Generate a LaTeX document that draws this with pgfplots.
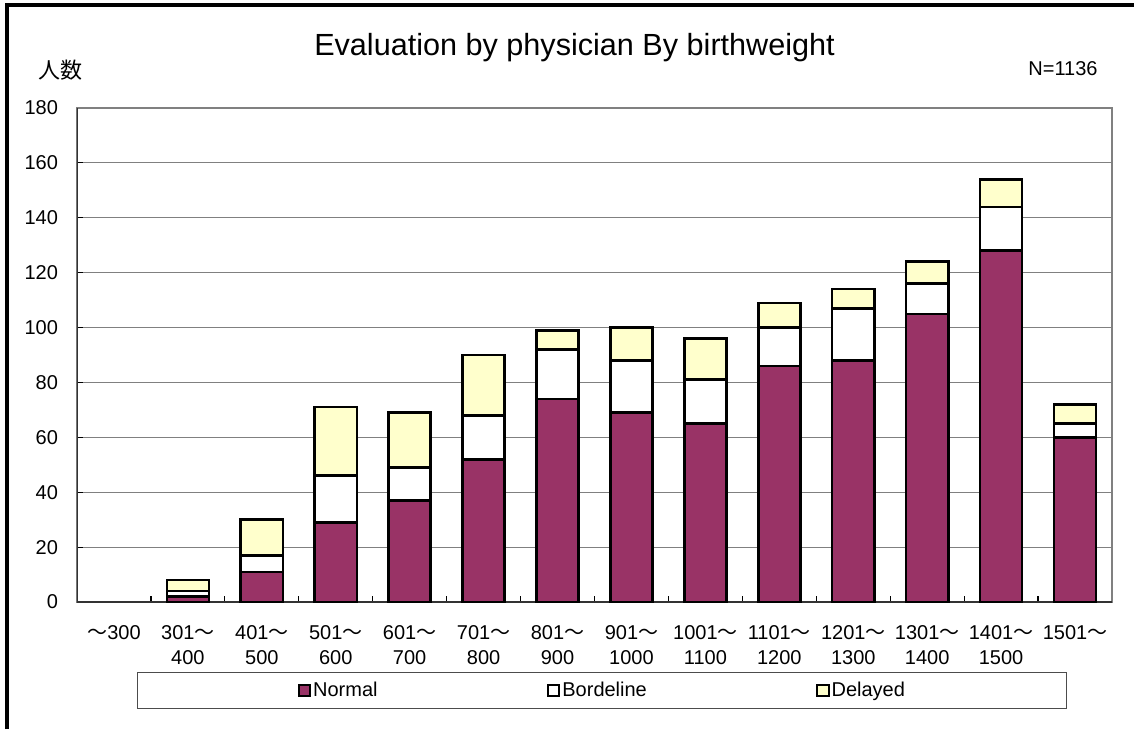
\documentclass[border=0pt]{standalone}
\usepackage{fontspec}
\setmainfont{Liberation Sans}
\newfontfamily\cjk{Noto Sans CJK JP}
\usepackage{pgfplots}
\usepackage{pgfplotstable}
\pgfplotsset{compat=1.18}
\definecolor{plum}{HTML}{993366}
\definecolor{cream}{HTML}{FFFFCC}
\newcommand{\wv}{{\cjk ～}}

% weight class index, normal, borderline, delayed
\pgfplotstableread{
x  normal border delayed
1  2   2  4
2  11  6  13
3  29  17 25
4  37  12 20
5  52  16 22
6  74  18 7
7  69  19 12
8  65  16 15
9  86  14 9
10 88  19 7
11 105 11 8
12 128 16 10
13 60  5  7
}\evaldata

\begin{document}
\begin{tikzpicture}[font=\fontsize{10}{12}\selectfont]
\useasboundingbox (0,0) rectangle (567pt,364.5pt);
\draw[line width=2pt] (3.5pt,0) -- (3.5pt,362pt) -- (567pt,362pt);

\node at (287.25pt,340.5pt) {\fontsize{15.3}{18}\selectfont Evaluation by physician By birthweight};
\node at (30pt,329.5pt) {\fontsize{11}{13}\selectfont\cjk 人数};
\node at (531.5pt,330pt) {N=1136};

\begin{axis}[
    at={(38.5pt,63.5pt)}, anchor=south west,
    width=517.5pt, height=247pt, scale only axis,
    ybar stacked, bar width=0.57,
    xmin=-0.5, xmax=13.5,
    ymin=0, ymax=180, ytick={0,20,...,180},
    xtick={0.5,1.5,...,12.5}, xticklabels={},
    extra x ticks={0,...,13},
    extra x tick labels={{\wv300},{301\wv\\400},{401\wv\\500},{501\wv\\600},{601\wv\\700},{701\wv\\800},{801\wv\\900},{901\wv\\1000},{1001\wv\\1100},{1101\wv\\1200},{1201\wv\\1300},{1301\wv\\1400},{1401\wv\\1500},{1501\wv}},
    extra x tick style={grid=none, major tick length=0pt,
        tick label style={align=center, yshift=-8pt, font=\fontsize{10}{12.5}\selectfont}},
    xtick pos=bottom, ytick pos=left,
    tick align=inside, major tick length=3pt,
    tick style={black, line width=0.6pt},
    ymajorgrids, major grid style={gray, line width=0.6pt},
    axis line style={gray, line width=0.9pt},
    /pgf/number format/assume math mode=true,
    yticklabel style={xshift=-6pt},
    legend columns=3,
    legend style={at={(0.5077,-0.179)}, anchor=center, draw=black!70, line width=0.5pt,
        inner xsep=80pt, inner ysep=2.5pt,
        nodes={inner xsep=1pt}},
    legend image code/.code={\draw[#1, line width=1pt] (0pt,-2.8pt) rectangle (5.6pt,2.8pt);},
]
\addplot[fill=plum, draw=black, line width=1.3pt] table[x=x, y=normal] {\evaldata};
\addplot[fill=white, draw=black, line width=1.3pt] table[x=x, y=border] {\evaldata};
\addplot[fill=cream, draw=black, line width=1.3pt] table[x=x, y=delayed] {\evaldata};
\legend{\makebox[116pt][l]{Normal}, \makebox[126pt][l]{Bordeline}, Delayed}
\draw[black!80, line width=1pt] (rel axis cs:0,1) -- (rel axis cs:0,0) -- (rel axis cs:1,0);
\end{axis}
\end{tikzpicture}
\end{document}
